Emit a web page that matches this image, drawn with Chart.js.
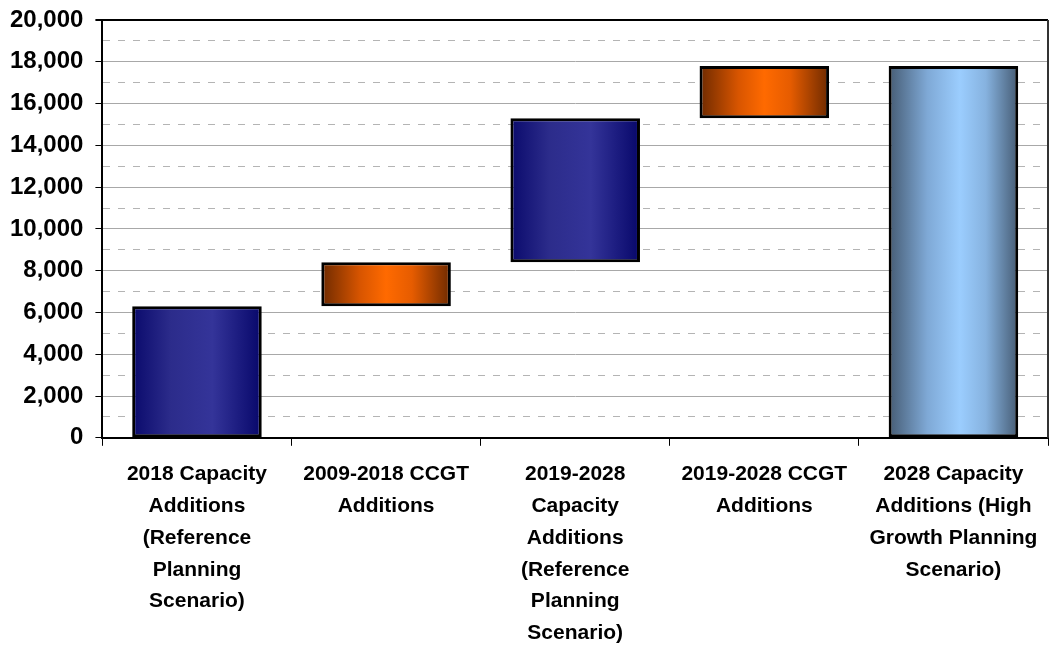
<!DOCTYPE html>
<html>
<head>
<meta charset="utf-8">
<script src="https://cdn.jsdelivr.net/npm/chart.js@4/dist/chart.umd.min.js"></script>
<style>
  html, body { margin:0; padding:0; background:#fff; }
  #wrap { width:1053px; height:645px; }
</style>
</head>
<body>
<div id="wrap"><canvas id="chart" width="1053" height="645"></canvas></div>
<script>
// ====== DATA ======
const categories = [
  ['2018 Capacity', 'Additions', '(Reference', 'Planning', 'Scenario)'],
  ['2009-2018 CCGT', 'Additions'],
  ['2019-2028', 'Capacity', 'Additions', '(Reference', 'Planning', 'Scenario)'],
  ['2019-2028 CCGT', 'Additions'],
  ['2028 Capacity', 'Additions (High', 'Growth Planning', 'Scenario)'],
];
const barBottoms = [0, 6300, 8400, 15300, 0];
const barTops    = [6300, 8400, 15300, 17800, 17800];
const yMax = 20000;
const yStep = 1000;

// ====== STYLE ======
const BAR_PCT = 0.685;
const gradStops = [
  [[0, '#0a0a6c'], [0.3, '#2c2c8b'], [0.62, '#343499'], [1, '#07076a']],
  [[0, '#6e2a00'], [0.3, '#d85500'], [0.5, '#ff6a00'], [0.7, '#e65c00'], [1, '#6e2a00']],
  [[0, '#0a0a6c'], [0.3, '#2c2c8b'], [0.62, '#343499'], [1, '#07076a']],
  [[0, '#6e2a00'], [0.3, '#d85500'], [0.5, '#ff6a00'], [0.7, '#e65c00'], [1, '#6e2a00']],
  [[0, '#465c74'], [0.3, '#7fa9d6'], [0.55, '#9bcdfe'], [0.75, '#86b2df'], [1, '#465c74']],
];
const FONT = 'Liberation Sans, Arial, sans-serif';

function barFill(ctx) {
  const chart = ctx.chart;
  const i = ctx.dataIndex;
  const stops = gradStops[i] || gradStops[0];
  const xs = chart.scales.x;
  if (!chart.chartArea || !xs || !isFinite(xs.width) || xs.width <= 0) return stops[1][1];
  const cx = xs.getPixelForValue(i);
  const half = xs.width / categories.length * BAR_PCT / 2;
  const g = chart.ctx.createLinearGradient(cx - half, 0, cx + half, 0);
  stops.forEach(s => g.addColorStop(s[0], s[1]));
  return g;
}

// right-hand frame line of the plot area
const frameRight = {
  id: 'frameRight',
  afterDatasetsDraw(chart) {
    const { ctx, chartArea } = chart;
    ctx.save();
    ctx.strokeStyle = '#333';
    ctx.lineWidth = 2;
    ctx.beginPath();
    ctx.moveTo(chartArea.right, chartArea.top);
    ctx.lineTo(chartArea.right, chartArea.bottom);
    ctx.stroke();
    ctx.restore();
  }
};

// ====== CHART ======
new Chart(document.getElementById('chart').getContext('2d'), {
  type: 'bar',
  data: {
    labels: categories,
    datasets: [{
      data: barBottoms.map((b, i) => [b, barTops[i]]),
      backgroundColor: barFill,
      borderColor: '#000',
      borderWidth: 3,
      borderSkipped: false,
      barPercentage: BAR_PCT,
      categoryPercentage: 1,
    }]
  },
  options: {
    responsive: false,
    animation: false,
    layout: { padding: { top: 20, left: -2, right: 5, bottom: -17 } },
    plugins: { legend: { display: false }, tooltip: { enabled: false } },
    scales: {
      x: {
        grid: { drawOnChartArea: false, drawTicks: true, tickLength: 8, tickColor: '#000', offset: true },
        border: { display: true, color: '#000', width: 2 },
        ticks: {
          color: '#000', maxRotation: 0, autoSkip: false, padding: 13,
          font: { family: FONT, size: 21, weight: 'bold', lineHeight: '31.7px' }
        }
      },
      y: {
        min: 0, max: yMax,
        afterFit: s => { s.paddingTop = 14; },
        grid: {
          color: c => {
            const v = c.tick ? c.tick.value : 0;
            if (v === yMax) return '#000';
            return v % 2000 ? '#b4b4b4' : '#a8a8a8';
          },
          lineWidth: c => (c.tick && c.tick.value === yMax) ? 2 : 1,
          tickColor: c => (c.tick && c.tick.value % 2000) ? 'rgba(0,0,0,0)' : '#000',
          tickLength: 7,
        },
        border: {
          display: true, color: '#000', width: 2,
          dash: c => (c.tick && c.tick.value % 2000) ? [7, 8] : [],
        },
        ticks: {
          stepSize: yStep, autoSkip: false, color: '#000', padding: 12,
          font: { family: FONT, size: 24, weight: 'bold' },
          callback: v => v % 2000 ? '' : v.toLocaleString('en-US'),
        }
      }
    }
  },
  plugins: [frameRight]
});
</script>
</body>
</html>
